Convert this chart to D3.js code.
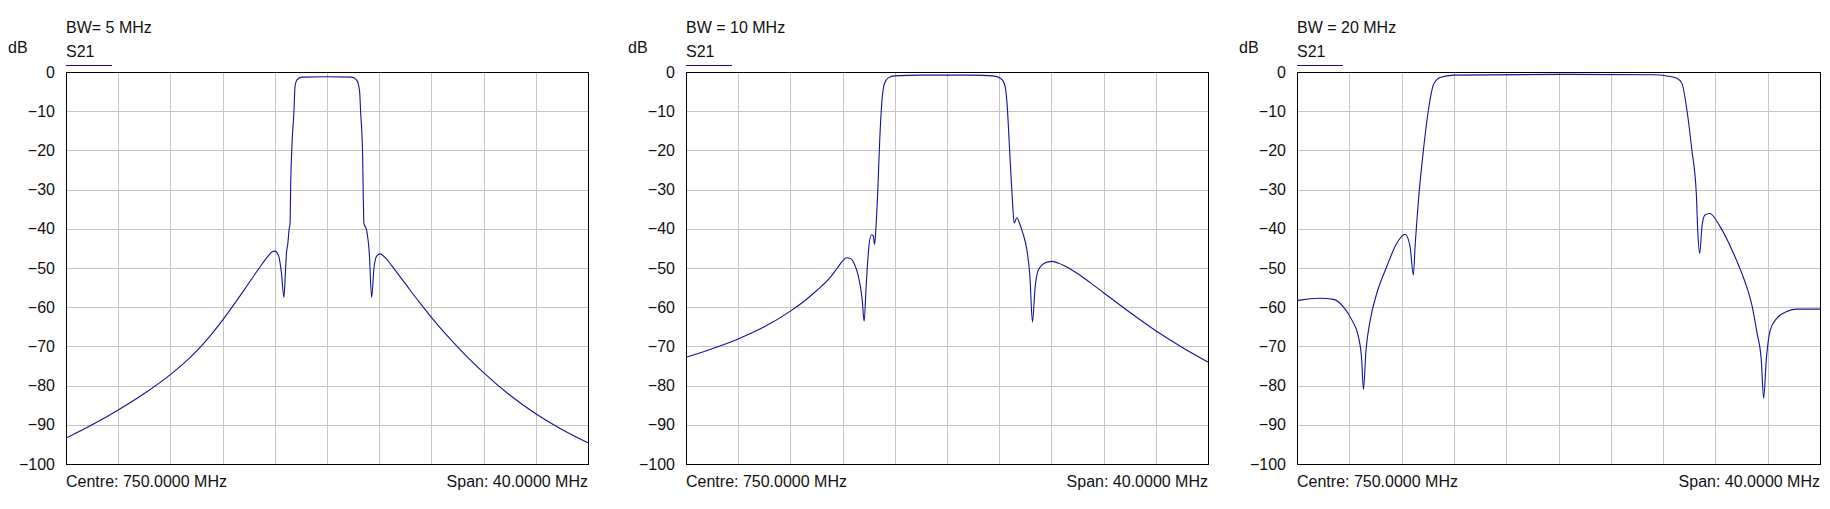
<!DOCTYPE html>
<html>
<head>
<meta charset="utf-8">
<script src="https://cdn.jsdelivr.net/npm/d3@7/dist/d3.min.js"></script>
<style>
html,body{margin:0;padding:0;background:#fff;}
svg text{font-family:"Liberation Sans",Arial,sans-serif;font-size:16px;fill:#111;}
</style>
</head>
<body>
<svg id="chart" width="1830" height="509"></svg>
<script>
// ---- data ----
const titles = ["BW= 5 MHz", "BW = 10 MHz", "BW = 20 MHz"];
const seriesName = "S21";
const yUnit = "dB";
const centreLabel = "Centre: 750.0000 MHz";
const spanLabel = "Span: 40.0000 MHz";
const yTicks = [0, -10, -20, -30, -40, -50, -60, -70, -80, -90, -100];
const xGrid = [734, 738, 742, 746, 750, 754, 758, 762, 766];

const freq5 = [730, 732, 734, 736, 738, 739, 740, 741, 742, 743, 744, 745, 745.5, 745.8, 746, 746.3, 746.5, 746.7, 746.8, 746.9, 747.0, 747.1, 747.17, 747.22, 747.3, 747.47, 747.55, 747.7, 748.06, 750, 751.9, 752.3, 752.5, 752.57, 752.72, 752.83, 753.03, 753.24, 753.42, 753.6, 753.8, 754.06, 754.5, 755, 756, 757, 758, 759, 760, 762, 764, 766, 768, 770];
const s21_5 = [-93.4, -90.0, -86.2, -82.0, -77.2, -74.4, -71.2, -67.5, -63.3, -58.7, -53.9, -49.1, -46.9, -45.85, -45.7, -47, -51, -57.5, -52, -46, -43.7, -40, -38.6, -28.4, -19.9, -9.8, -3.7, -2.0, -1.3, -1.2, -1.3, -2.2, -5, -9.8, -19.9, -38.6, -40.3, -46.2, -57.5, -50, -47, -46.4, -47.5, -49.6, -54.0, -58.4, -62.6, -66.5, -70.1, -76.7, -82.4, -87.2, -91.2, -94.6];

const freq10 = [730, 732, 734, 736, 738, 739, 740, 741, 741.6, 742.0, 742.3, 742.6, 742.9, 743.2, 743.5, 743.65, 743.8, 744.0, 744.2, 744.35, 744.45, 744.55, 744.7, 744.85, 745.0, 745.2, 745.5, 746, 748, 752, 753.5, 754.1, 754.4, 754.6, 754.8, 755.0, 755.15, 755.35, 755.55, 755.8, 756.1, 756.35, 756.55, 756.75, 757.0, 757.5, 758, 758.5, 759, 760, 761, 762, 764, 766, 768, 770];
const s21_10 = [-72.8, -70.6, -68.1, -65.0, -61.0, -58.6, -55.8, -52.6, -50.0, -48.2, -47.4, -47.6, -49.0, -52, -58, -63.6, -55, -45, -41.5, -41.8, -44, -40, -30, -17, -8, -3, -1.5, -1.0, -0.8, -0.8, -1.0, -1.6, -3, -8, -20, -32, -38.5, -37.2, -38.5, -41, -45, -52, -63.8, -55, -50.5, -48.7, -48.3, -48.7, -49.4, -51.4, -53.8, -56.3, -61.3, -66.0, -70.2, -74];

const freq20 = [730, 730.23, 731.76, 732.8, 733.55, 734.2, 734.7, 734.95, 735.08, 735.28, 735.6, 736.1, 736.86, 737.63, 738.27, 738.65, 738.9, 739.03, 739.29, 739.67, 740.05, 740.43, 740.94, 741.96, 750, 757.27, 758.3, 759.06, 759.44, 759.82, 760.2, 760.54, 760.66, 760.8, 760.97, 761.2, 761.56, 762.37, 763.39, 764.16, 764.5, 764.8, 765.18, 765.51, 765.69, 765.89, 766.2, 766.71, 767.47, 768.24, 769.9, 770];
const s21_20 = [-58.4, -58.2, -57.7, -58.0, -59.9, -63.3, -67.5, -73.5, -81, -70.9, -63.3, -56.5, -49.7, -43.7, -41.4, -44.6, -51.8, -44.6, -32.7, -19.9, -9.7, -3.3, -1.4, -0.8, -0.6, -0.7, -1.0, -1.6, -2.9, -9.7, -19.9, -31, -41.2, -46.3, -39.5, -36.5, -36.1, -39.5, -46.3, -52.6, -55.9, -59.6, -66.5, -73.5, -83.2, -73.5, -65.8, -62.8, -61.1, -60.5, -60.5, -60.5];

const freqs = [freq5, freq10, freq20];
const values = [s21_5, s21_10, s21_20];

// ---- layout ----
const panelLeft = [66, 686, 1297];
const panelWidth = [522, 522, 523];
const plotTop = 72, plotBottom = 464;
const lineColor = "#12129c";

const svg = d3.select("#chart");

panelLeft.forEach((L, i) => {
  const W = panelWidth[i];
  const x = d3.scaleLinear().domain([730, 770]).range([L, L + W]);
  const y = d3.scaleLinear().domain([-100, 0]).range([plotBottom, plotTop]);
  const g = svg.append("g");

  // grid
  g.selectAll(".vg").data(xGrid).enter().append("line")
    .attr("x1", d => Math.round(x(d)) + 0.5).attr("x2", d => Math.round(x(d)) + 0.5)
    .attr("y1", plotTop).attr("y2", plotBottom)
    .attr("stroke", "#c4c4c4").attr("stroke-width", 1);
  g.selectAll(".hg").data(yTicks.slice(1, -1)).enter().append("line")
    .attr("x1", L).attr("x2", L + W)
    .attr("y1", d => Math.round(y(d)) + 0.5).attr("y2", d => Math.round(y(d)) + 0.5)
    .attr("stroke", "#c4c4c4").attr("stroke-width", 1);

  // y axis labels
  const yAxis = d3.axisLeft(y).tickValues(yTicks).tickSize(0).tickPadding(11).tickFormat(d3.format("d"));
  const ya = g.append("g").attr("transform", `translate(${L},0)`).call(yAxis);
  ya.select(".domain").remove();
  ya.selectAll("text").style("font-family", '"Liberation Sans",Arial,sans-serif').style("font-size", "16px").attr("fill", "#111");

  // frame
  g.append("rect").attr("x", L + 0.5).attr("y", plotTop + 0.5).attr("width", W).attr("height", plotBottom - plotTop)
    .attr("fill", "none").attr("stroke", "#000").attr("stroke-width", 1);

  // curve
  const pts = freqs[i].map((f, k) => [f, values[i][k]]);
  const line = d3.line().x(d => x(d[0])).y(d => y(d[1])).curve(d3.curveMonotoneX);
  g.append("path").datum(pts).attr("d", line)
    .attr("fill", "none").attr("stroke", lineColor).attr("stroke-width", 1.1);

  // texts
  g.append("text").attr("x", L).attr("y", 33).text(titles[i]);
  g.append("text").attr("x", L).attr("y", 57).text(seriesName);
  g.append("line").attr("x1", L).attr("x2", L + 46).attr("y1", 65.5).attr("y2", 65.5)
    .attr("stroke", lineColor).attr("stroke-width", 1.2);
  g.append("text").attr("x", L - 58).attr("y", 53).text(yUnit);
  g.append("text").attr("x", L).attr("y", 487).text(centreLabel);
  g.append("text").attr("x", L + W).attr("y", 487).attr("text-anchor", "end").text(spanLabel);
});
</script>
</body>
</html>
